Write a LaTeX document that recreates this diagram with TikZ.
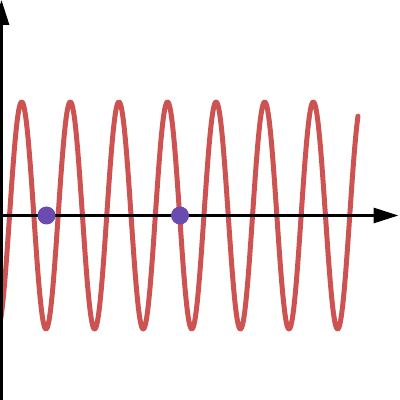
\documentclass[tikz,border=0pt]{standalone}
\usetikzlibrary{arrows.meta}
\definecolor{wave}{RGB}{205,83,83}
\definecolor{dotc}{RGB}{106,76,176}
\tikzset{
  axisline/.style={line width=3pt,black,-{Triangle[length=25pt,width=15pt]}},
  waveline/.style={line width=5pt,wave,line cap=round,line join=round},
  marker/.style={circle,fill=dotc,inner sep=0pt,minimum size=18pt}
}
\begin{document}
\begin{tikzpicture}[x=1pt,y=1pt]
\useasboundingbox (0,0) rectangle (400,400);
\clip (0,0) rectangle (400,400);
\draw[waveline] plot[domain=0:358,samples=600,smooth] (\x,{184.5+113.5*sin(7.40741*(\x-9.55))});
\coordinate (xs) at (0,184.5);
\coordinate (xe) at (398.5,184.5);
\coordinate (ys) at (1.5,0);
\coordinate (ye) at (1.5,400);
\draw[axisline] (xs) -- (xe);
\draw[axisline] (ys) -- (ye);
\node[marker] (d1) at (46.5,184.5) {};
\node[marker] (d2) at (180,184.5) {};
\end{tikzpicture}
\end{document}
